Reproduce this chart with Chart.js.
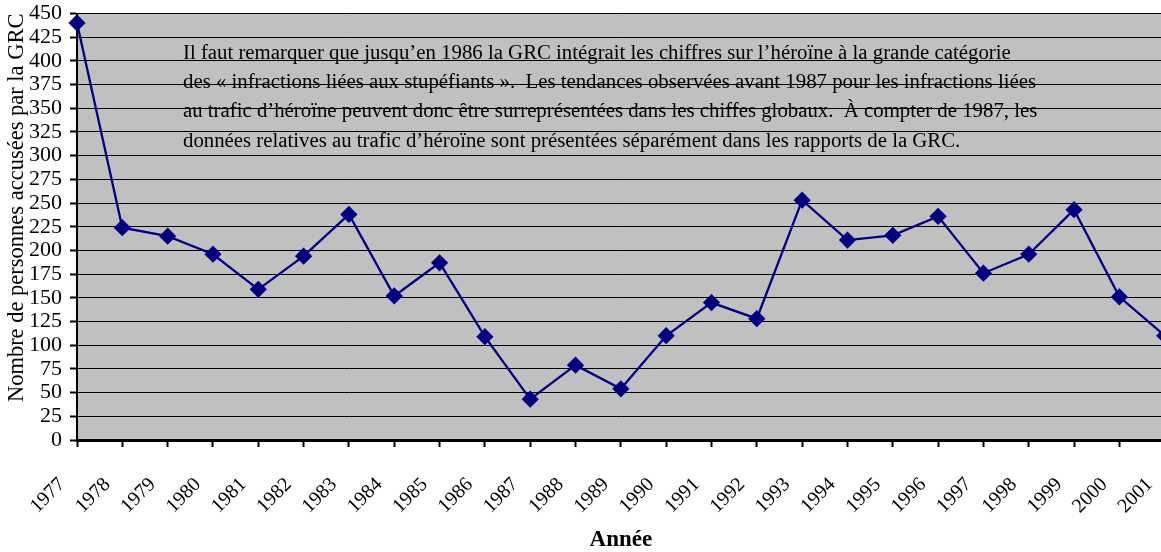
<!DOCTYPE html>
<html lang="fr">
<head>
<meta charset="utf-8">
<title>Héroïne - personnes accusées</title>
<script src="https://cdn.jsdelivr.net/npm/chart.js@4/dist/chart.umd.min.js"></script>
<style>
    html, body { margin: 0; padding: 0; overflow: hidden; background: #ffffff; }
    #wrap { width: 1161px; height: 552px; overflow: hidden; }
</style>
</head>
<body>
<div id="wrap">
    <canvas id="heroin-chart" width="1174" height="552"></canvas>
</div>
<script>
let years = ['1977', '1978', '1979', '1980', '1981', '1982', '1983', '1984', '1985', '1986', '1987', '1988',
    '1989', '1990', '1991', '1992', '1993', '1994', '1995', '1996', '1997', '1998', '1999', '2000', '2001'];
let persons_charged = [440, 224, 215, 196, 159, 194, 238, 152, 187, 109, 43, 79,
    54, 110, 145, 128, 253, 211, 216, 236, 176, 196, 243, 151, 110];
let note_lines = [
    "Il faut remarquer que jusqu\u2019en 1986 la GRC intégrait les chiffres sur l\u2019héroïne à la grande catégorie",
    "des « infractions liées aux stupéfiants ».  Les tendances observées avant 1987 pour les infractions liées",
    "au trafic d\u2019héroïne peuvent donc être surreprésentées dans les chiffes globaux.  À compter de 1987, les",
    "données relatives au trafic d\u2019héroïne sont présentées séparément dans les rapports de la GRC."
];

let serif = "'Liberation Serif', 'Times New Roman', serif";

// grey plot background, like the old Excel charts
let plot_background = {
    id: 'plot_background',
    beforeDraw: (chart) => {
        let a = chart.chartArea;
        let ctx = chart.ctx;
        ctx.save();
        ctx.fillStyle = '#c0c0c0';
        ctx.fillRect(a.left, a.top, a.right - a.left, a.bottom - a.top);
        ctx.restore();
    }
};

// the note in the upper part of the plot
let note_text = {
    id: 'note_text',
    beforeDatasetsDraw: (chart) => {
        let a = chart.chartArea;
        let ctx = chart.ctx;
        ctx.save();
        ctx.font = "20.8px " + serif;
        ctx.fillStyle = '#000000';
        ctx.textAlign = 'left';
        ctx.textBaseline = 'alphabetic';
        note_lines.forEach((line, i) => {
            ctx.fillText(line, a.left + 106, a.top + 45.5 + i * 29.2);
        });
        ctx.restore();
    }
};

document.addEventListener("DOMContentLoaded", () => {
    let ctx = document.getElementById('heroin-chart');
    new Chart(ctx, {
        type: 'line',
        data: {
            labels: years,
            datasets: [{
                data: persons_charged,
                borderColor: '#000080',
                backgroundColor: '#000080',
                borderWidth: 2.3,
                pointStyle: 'rectRot',
                pointRadius: 7,
                pointHoverRadius: 7,
                pointBackgroundColor: '#000080',
                pointBorderColor: '#000080',
                tension: 0,
                clip: false,
            }]
        },
        options: {
            responsive: false,
            animation: false,
            layout: {padding: {top: 13.5, right: 2, bottom: 0, left: 0}},
            plugins: {
                legend: {display: false},
                tooltip: {enabled: false},
            },
            scales: {
                x: {
                    type: 'category',
                    offset: false,
                    grid: {
                        offset: false,
                        drawOnChartArea: false,
                        drawTicks: true,
                        tickLength: 7,
                        tickWidth: 2,
                        tickColor: '#000000',
                    },
                    border: {display: true, color: '#000000', width: 3},
                    ticks: {
                        autoSkip: false,
                        minRotation: 45,
                        maxRotation: 45,
                        labelOffset: -15,
                        padding: 26,
                        color: '#000000',
                        font: {family: serif, size: 20},
                    },
                    title: {
                        display: true,
                        text: 'Année',
                        color: '#000000',
                        font: {family: serif, size: 23, weight: 'bold', lineHeight: 1},
                        padding: {top: 0, bottom: 0},
                    },
                    afterFit: (scale) => {
                        scale.height = 112;
                        scale.paddingLeft = 0;
                        scale.paddingRight = 0;
                    },
                },
                y: {
                    min: 0,
                    max: 450,
                    grid: {
                        color: '#000000',
                        lineWidth: 1,
                        drawTicks: true,
                        tickLength: 7,
                        tickWidth: 2,
                        tickColor: '#000000',
                    },
                    border: {display: true, color: '#000000', width: 2},
                    ticks: {
                        stepSize: 25,
                        autoSkip: false,
                        padding: 8,
                        color: '#000000',
                        font: {family: serif, size: 22},
                    },
                    title: {
                        display: true,
                        text: 'Nombre de personnes accusées par la GRC',
                        align: 'end',
                        color: '#000000',
                        font: {family: serif, size: 22.5, lineHeight: 1.2},
                        padding: {top: 4, bottom: 0},
                    },
                    afterFit: (scale) => {
                        scale.width = 77;
                        scale.paddingTop = 0;
                        scale.paddingBottom = 0;
                    },
                },
            },
        },
        plugins: [plot_background, note_text],
    });
})
</script>
</body>
</html>
